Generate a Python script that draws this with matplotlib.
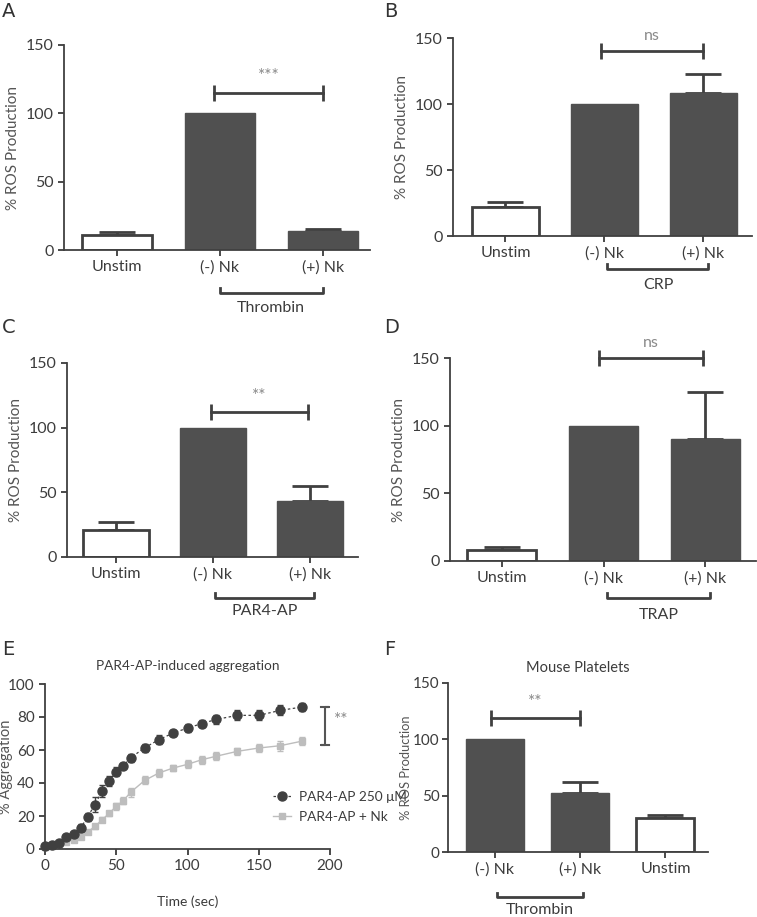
#!/usr/bin/python
# -*- coding: utf-8 -*-
"""
Description: ROS production panels A-F and PAR4-AP aggregation time course
"""
import numpy as np
import matplotlib
matplotlib.use("Agg")
import matplotlib.pyplot as plt
import matplotlib.transforms as mtransforms
from matplotlib.lines import Line2D

#---------------------FONT and other graphics------------------------
matplotlib.rc('font', family=['Lato', 'DejaVu Sans'], size=11)
matplotlib.rc('axes', edgecolor='#404040', linewidth=1.3)
matplotlib.rc('xtick', color='#3c3c3c')
matplotlib.rc('ytick', color='#3c3c3c')
matplotlib.rc('xtick.major', width=1.3, size=4)
matplotlib.rc('ytick.major', width=1.3, size=4)

#---------------------DATA------------------------
bar_cats = ['Unstim', '(-) Nk', '(+) Nk']

# A : thrombin
a_vals = [11, 100, 14]
a_err = [2, 0, 1.5]
# B : CRP
b_vals = [22, 100, 108]
b_err = [4, 0, 15]
# C : PAR4-AP
c_vals = [21, 100, 43]
c_err = [6, 0, 12]
# D : TRAP
d_vals = [8, 100, 90]
d_err = [2, 0, 35]
# F : mouse platelets
f_cats = ['(-) Nk', '(+) Nk', 'Unstim']
f_vals = [100, 52, 30]
f_err = [0, 10, 3]

# E : aggregation time course
time = [0, 5, 10, 15, 20, 25, 30, 35, 40, 45, 50, 55, 60, 70, 80, 90,
        100, 110, 120, 135, 150, 165, 180]
agg_ctrl = [1.8, 2.2, 3.8, 7.5, 9.1, 12.7, 19.6, 26.9, 35.0, 41.2, 46.9, 50.5,
            55.2, 61.4, 66.3, 70.3, 73.3, 76.0, 78.5, 81.0, 81.0, 84.0, 86.0]
agg_ctrl_err = [1.0, 1.0, 1.2, 1.5, 1.5, 2.5, 2.5, 4.5, 3.5, 3.0, 2.5, 1.5,
                2.5, 2.5, 2.5, 2.0, 2.5, 2.0, 2.5, 3.0, 3.0, 3.0, 2.5]
agg_nk = [1.2, 1.6, 2.2, 4.4, 5.5, 7.3, 10.3, 13.7, 17.6, 21.6, 25.9, 29.3,
          34.3, 41.6, 46.1, 49.1, 51.3, 54.1, 56.2, 59.2, 61.2, 62.6, 65.3]
agg_nk_err = [0.8, 0.8, 0.8, 1.0, 1.0, 1.2, 1.2, 1.5, 1.5, 1.5, 2.0, 2.0,
              2.5, 2.5, 2.5, 2.0, 2.5, 2.5, 2.5, 2.0, 2.5, 3.0, 2.5]

#-------------------------------------------------
W, H = 757., 917.
fig = plt.figure(figsize=(W / 100., H / 100.), dpi=100)

dark = '#505050'
edge = '#404040'
txtc = '#3c3c3c'
lightc = '#bdbdbd'


def px_axes(l, r, t, b):
    return fig.add_axes([l / W, 1 - b / H, (r - l) / W, (b - t) / H])


def bar_panel(rect, cats, vals, errs, fills, xlim, sig, sig_txt, brk, brk_txt,
              brk_y, txt_y, title=None):
    ax = px_axes(*rect)
    x = np.arange(len(cats))
    for i in range(len(cats)):
        if fills[i]:
            ax.bar(x[i], vals[i], width=0.68, color=dark, edgecolor=dark,
                   linewidth=1, zorder=2)
        else:
            ax.bar(x[i], vals[i], width=0.68, color='white', edgecolor=edge,
                   linewidth=2, zorder=2)
        if errs[i] > 0:
            ax.errorbar(x[i], vals[i], yerr=[[0], [errs[i]]], color=edge,
                        elinewidth=2, capsize=13, capthick=2, zorder=1)
    ax.set_xlim(*xlim)
    ax.set_ylim(0, 150)
    ax.set_yticks([0, 50, 100, 150])
    ax.set_xticks(x)
    ax.set_xticklabels(cats, fontsize=11.5)
    ax.tick_params(axis='y', labelsize=11.5)
    for s in ['top', 'right']:
        ax.spines[s].set_visible(False)
    ax.set_ylabel('% ROS Production', fontsize=11, color='#555555')
    # significance bar
    x1, x2, yv = sig
    ax.plot([x1, x2], [yv, yv], color=edge, lw=2, clip_on=False, zorder=3)
    ax.plot([x1, x2], [yv, yv], ls='none', marker='|', ms=11, mew=2,
            color=edge, clip_on=False, zorder=3)
    ax.annotate(sig_txt, xy=((x1 + x2) / 2., yv), xytext=(0, 6),
                textcoords='offset points', ha='center', va='bottom',
                color='#8a8a8a', fontsize=11.5 if sig_txt == 'ns' else 12.5)
    # group bracket under categories
    tr = mtransforms.blended_transform_factory(ax.transData, ax.transAxes)
    b1, b2 = brk
    ax.plot([b1, b1, b2, b2], [brk_y + 0.025, brk_y, brk_y, brk_y + 0.025],
            color=edge, lw=2, transform=tr, clip_on=False)
    ax.text((b1 + b2) / 2., txt_y, brk_txt, transform=tr, ha='center',
            va='center', fontsize=11.5, color=txtc)
    if title:
        ax.set_title(title, fontsize=10.5, color=txtc, pad=8)
    return ax


#PLOT A
bar_panel((64, 370, 45, 250), bar_cats, a_vals, a_err, [False, True, True],
          (-0.51, 2.46), (0.95, 2.0, 115), '***', (1.0, 2.0), 'Thrombin',
          -0.21, -0.283)
#PLOT B
bar_panel((453, 752, 38, 236), bar_cats, b_vals, b_err, [False, True, True],
          (-0.53, 2.49), (0.96, 2.0, 140), 'ns', (1.03, 2.05), 'CRP',
          -0.167, -0.247)
#PLOT C
bar_panel((67, 358, 363, 557), bar_cats, c_vals, c_err, [False, True, True],
          (-0.51, 2.5), (0.98, 1.98, 112), '**', (1.02, 2.04), 'PAR4-AP',
          -0.211, -0.278)
#PLOT D
bar_panel((450, 756, 358, 561), bar_cats, d_vals, d_err, [False, True, True],
          (-0.51, 2.5), (0.96, 1.98, 150), 'ns', (1.03, 2.05), 'TRAP',
          -0.182, -0.266)
#PLOT F
axf = bar_panel((448, 708, 683, 852), f_cats, f_vals, f_err,
                [True, True, False], (-0.55, 2.5), (-0.05, 1.0, 119), '**',
                (0.02, 1.03), 'Thrombin', -0.266, -0.345,
                title='Mouse Platelets')
axf.tick_params(axis='y', pad=2, labelsize=11)
axf.set_ylabel('% ROS Production', fontsize=9.3, color='#555555')
axf.yaxis.set_label_coords(-0.14, 0.5)

#PLOT E
ax = px_axes(45, 330, 684, 849)
ax.errorbar(time, agg_nk, yerr=agg_nk_err, color=lightc, lw=1,
            marker='s', ms=5, mec=lightc, capsize=2.5, elinewidth=1,
            clip_on=False, zorder=2)
ax.errorbar(time, agg_ctrl, yerr=agg_ctrl_err, color='#404040', lw=0.9,
            ls=(0, (2, 2)), marker='o', ms=6.5, mec='#404040', capsize=2.5,
            elinewidth=1, clip_on=False, zorder=3)
ax.set_xlim(0, 200)
ax.set_ylim(0, 100)
ax.set_xticks([0, 50, 100, 150, 200])
ax.set_yticks([0, 20, 40, 60, 80, 100])
ax.tick_params(labelsize=11)
for s in ['top', 'right']:
    ax.spines[s].set_visible(False)
ax.set_xlabel('Time (sec)', fontsize=10, color=txtc, labelpad=16)
ax.set_ylabel('% Aggregation', fontsize=10.5, color='#555555')
ax.yaxis.set_label_coords(-0.112, 0.5)
ax.set_title('PAR4-AP-induced aggregation', fontsize=9.8, color=txtc, pad=10)
handles = [Line2D([], [], color='#404040', lw=0.9, ls=(0, (2, 2)),
                  marker='o', ms=6.5),
           Line2D([], [], color=lightc, lw=1, marker='s', ms=5)]
ax.legend(handles, [u'PAR4-AP 250 \u03bcM', 'PAR4-AP + Nk'],
          loc='center left', bbox_to_anchor=(0.80, 0.255), borderpad=0,
          borderaxespad=0, frameon=False, fontsize=9.8, handlelength=1.3,
          handletextpad=0.6, labelspacing=0.6, labelcolor=txtc)
# ** bracket
ax.plot([194, 199, 196.5, 196.5, 194, 199], [86, 86, 86, 63, 63, 63],
        color='#555555', lw=1.5, clip_on=False)
ax.text(203, 78, '**', color='#8a8a8a', fontsize=12.5, va='center',
        ha='left')

# panel letters
for lab, xx, yy in [('A', 2, 2), ('B', 384, 2), ('C', 2, 318),
                    ('D', 384, 318), ('E', 2, 640), ('F', 384, 640)]:
    fig.text(xx / W, 1 - yy / H, lab, fontsize=14, color='#333333',
             family='DejaVu Sans', ha='left', va='top')

fig.savefig("out.png", dpi=100)
